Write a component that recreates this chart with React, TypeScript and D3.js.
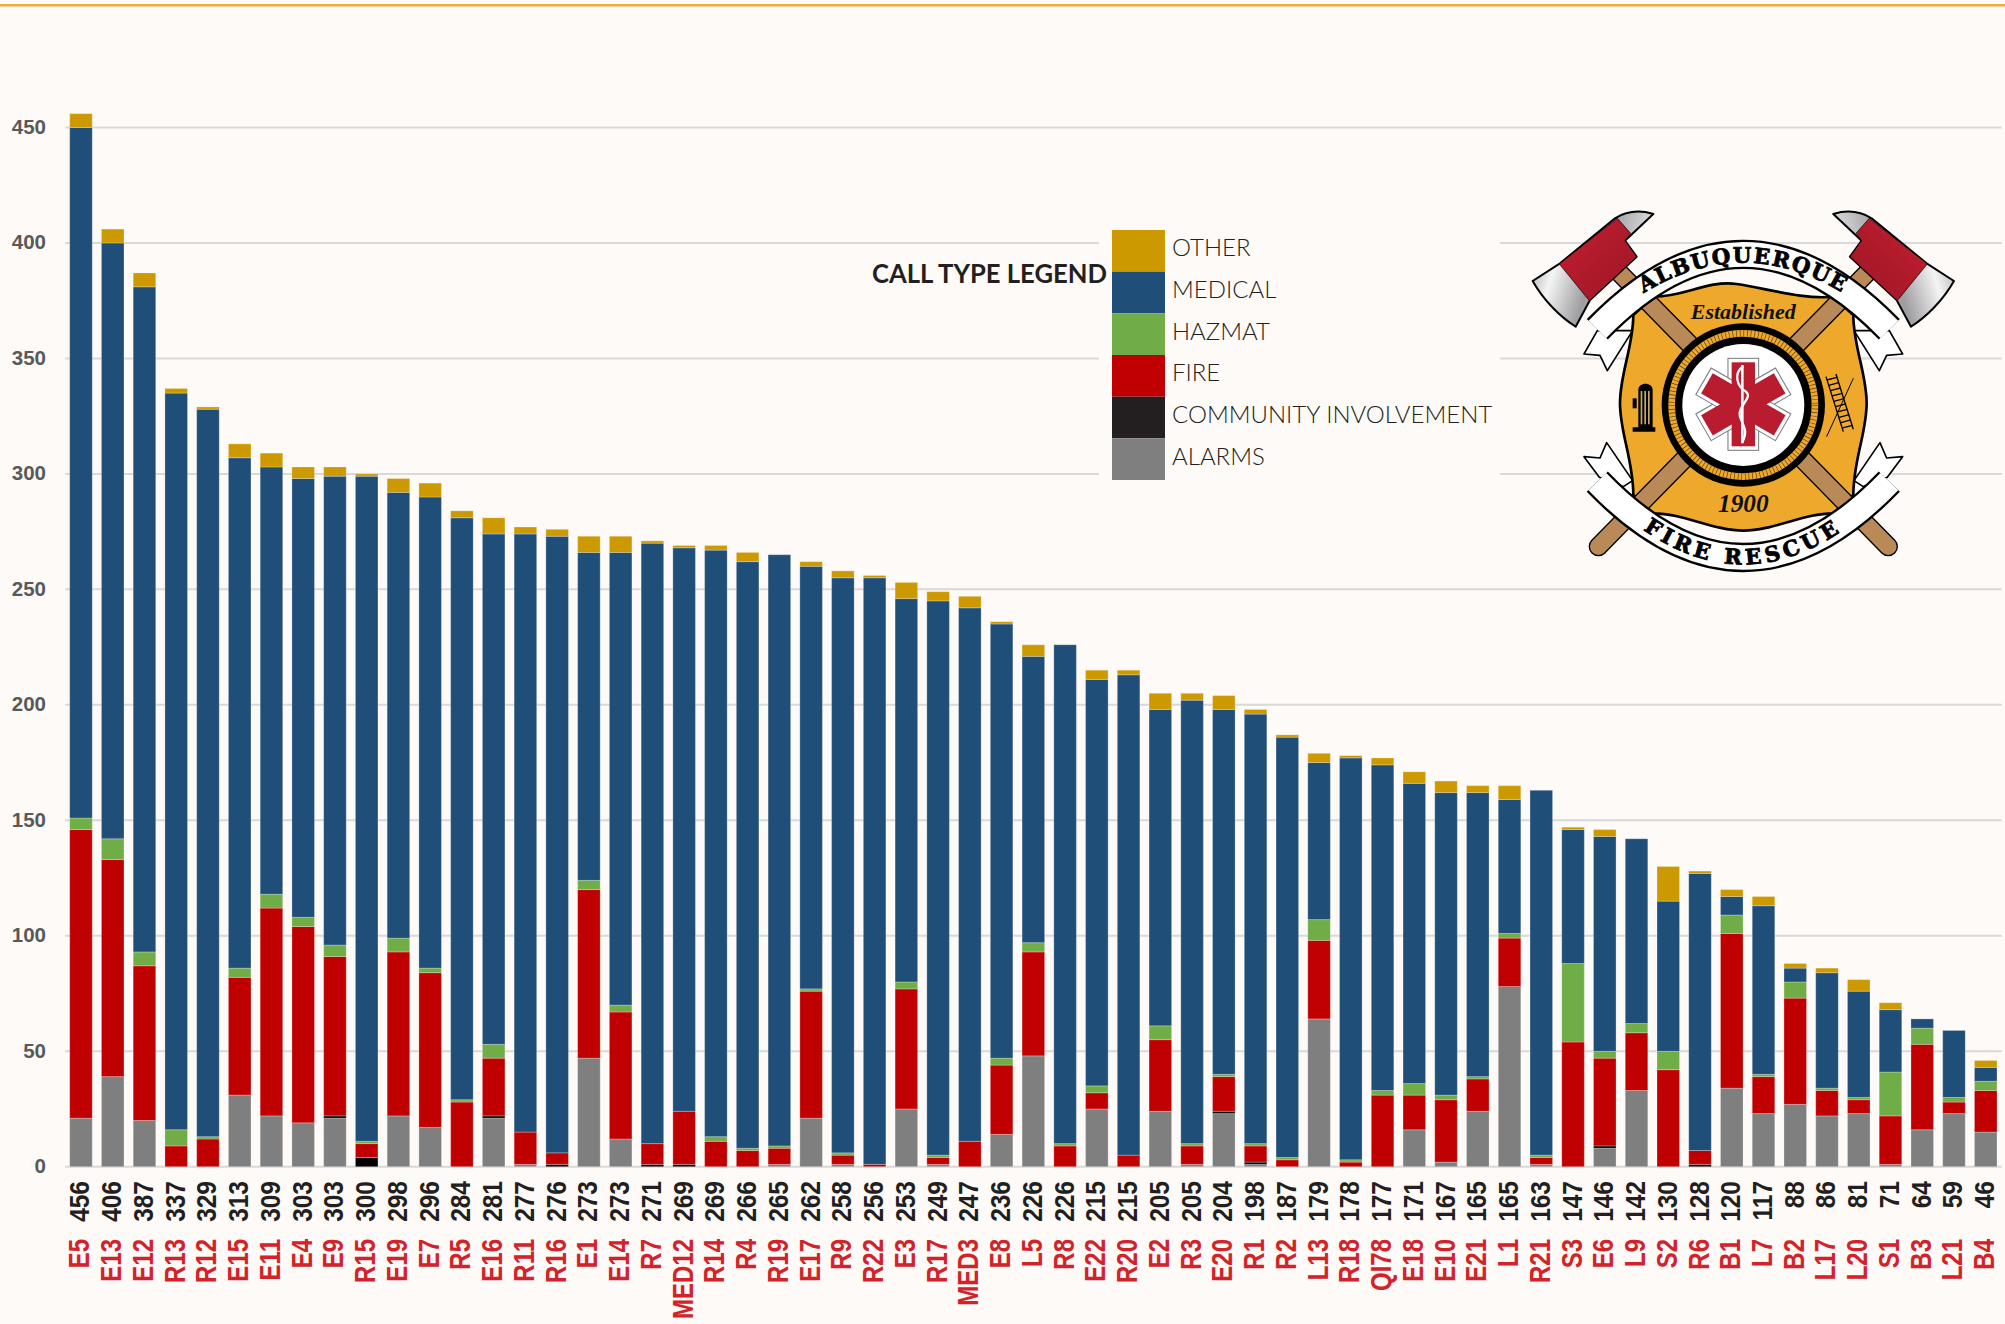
import React from 'react'
import * as d3 from 'd3'

const units = ['E5','E13','E12','R13','R12','E15','E11','E4','E9','R15','E19','E7','R5','E16','R11','R16','E1','E14','R7','MED12','R14','R4','R19','E17','R9','R22','E3','R17','MED3','E8','L5','R8','E22','R20','E2','R3','E20','R1','R2','L13','R18','QI78','E18','E10','E21','L1','R21','S3','E6','L9','S2','R6','B1','L7','B2','L17','L20','S1','B3','L21','B4']
const totals = [456,406,387,337,329,313,309,303,303,300,298,296,284,281,277,276,273,273,271,269,269,266,265,262,258,256,253,249,247,236,226,226,215,215,205,205,204,198,187,179,178,177,171,167,165,165,163,147,146,142,130,128,120,117,88,86,81,71,64,59,46]

const alarms = [21,39,20,0,0,31,22,19,21,0,22,17,0,21,1,0,47,12,0,0,0,0,1,21,1,0,25,1,0,14,48,0,25,0,24,1,23,1,0,64,0,0,16,2,24,78,1,0,8,33,0,0,34,23,27,22,23,1,16,23,15]
const community = [0,0,0,0,0,0,0,0,1,4,0,0,0,1,0,1,0,0,1,1,0,0,0,0,0,0,0,0,0,0,0,0,0,0,0,0,1,1,0,0,0,0,0,0,0,0,0,0,1,0,0,1,0,0,0,0,0,0,0,0,0]
const fire = [125,94,67,9,12,51,90,85,69,6,71,67,28,25,14,5,73,55,9,23,11,7,7,55,4,1,52,3,11,30,45,9,7,5,31,8,15,7,3,34,2,31,15,27,14,21,3,54,38,25,42,6,67,16,46,11,6,21,37,5,18]
const hazmat = [5,9,6,7,1,4,6,4,5,1,6,2,1,6,0,0,4,3,0,0,2,1,1,1,1,0,3,1,0,3,4,1,3,0,6,1,1,1,1,9,1,2,5,2,1,2,1,34,3,4,8,0,8,1,7,1,1,19,7,2,4]
const medical = [299,258,288,319,315,221,185,190,203,288,193,204,252,221,259,267,142,196,260,244,254,254,256,183,249,254,166,240,231,188,124,216,176,208,137,192,158,186,182,68,174,141,130,131,123,58,158,58,93,80,65,120,8,73,6,50,46,27,4,29,6]
const other = [6,6,6,2,1,6,6,5,4,1,6,6,3,7,3,3,7,7,1,1,2,4,0,2,3,1,7,4,5,1,5,0,4,2,7,3,6,2,1,4,1,3,5,5,3,6,0,1,3,0,15,1,3,4,2,2,5,3,0,0,3]

const callTypes = ['ALARMS','COMMUNITY INVOLVEMENT','FIRE','HAZMAT','MEDICAL','OTHER']
const callValues = [alarms, community, fire, hazmat, medical, other]
const callColors = ['#7f7f7f','#000000','#c00000','#70ad47','#1f4e79','#cc9900']
const legendOrder = ['OTHER','MEDICAL','HAZMAT','FIRE','COMMUNITY INVOLVEMENT','ALARMS']
const legendColors: Record<string, string> = { OTHER:'#cc9900', MEDICAL:'#1f4e79', HAZMAT:'#70ad47', FIRE:'#c00000', 'COMMUNITY INVOLVEMENT':'#231f20', ALARMS:'#7f7f7f' }

const W = 2005
const H = 1324
const BG = '#fdfaf7'

const x = d3.scaleBand<string>().domain(units).range([65.1, 2001.6]).paddingInner(0.29).paddingOuter(0.145)
const y = d3.scaleLinear().domain([0, 450]).range([1166.7, 127.5])
const legendY = d3.scaleBand<string>().domain(legendOrder).range([230, 480])

const rows = units.map((u, i) => {
  const row: Record<string, number | string> = { unit: u }
  callTypes.forEach((c, k) => { row[c] = callValues[k][i] })
  return row
})
const series = d3.stack<any>().keys(callTypes)(rows)

const Axe = () => (
  <g>
    <path d="M430 42 C390 30 350 33 315 55 L150 190 L68 243 C100 300 150 350 197 380 L240 300 L380 170 L345 122 Z" fill="url(#silver)" stroke="#000" strokeWidth="6" strokeLinejoin="round" />
    <path d="M322 55 L148 192 L238 302 L380 170 L345 122 L362 100 Z" fill="url(#axeRed)" stroke="#000" strokeWidth="2" />
  </g>
)

const Tails = () => (
  <g fill="#fff" stroke="#000" strokeWidth="5" strokeLinejoin="round">
    <path d="M262 392 L222 462 L270 466 L292 512 L368 392 Z" />
    <path d="M222 770 L270 774 L290 728 L368 842 L340 860 L268 832 Z" />
  </g>
)

const Logo = () => (
  <g transform="translate(1510,200) scale(0.3333)">
    <defs>
      <linearGradient id="silver" x1="0" y1="0" x2="1" y2="0.3">
        <stop offset="0" stopColor="#8d8d8f" />
        <stop offset="0.3" stopColor="#f4f4f4" />
        <stop offset="0.6" stopColor="#9d9da0" />
        <stop offset="1" stopColor="#e8e8e8" />
      </linearGradient>
      <linearGradient id="axeRed" x1="0" y1="0" x2="1" y2="1">
        <stop offset="0" stopColor="#c41f30" />
        <stop offset="1" stopColor="#9b1626" />
      </linearGradient>
      <path id="bannerTop" d="M320 335 Q700 42 1080 335" />
      <path id="bannerBottom" d="M318 925 Q700 1262 1082 925" />
    </defs>

    <Tails />
    <g transform="translate(1400,0) scale(-1,1)"><Tails /></g>

    <path d="M430 290 C520 292 590 240 680 252 C770 265 880 300 970 290 L1030 345 C1030 440 1070 520 1070 610 C1070 700 1030 780 1030 885 L970 940 C880 940 790 992 700 992 C610 992 520 940 430 940 L370 885 C370 780 330 700 330 610 C330 520 370 440 370 345 Z" fill="#eea92d" stroke="#000" strokeWidth="8" strokeLinejoin="round" />

    <g stroke="#000" strokeLinecap="round">
      <line x1="320" y1="210" x2="1135" y2="1040" strokeWidth="58" />
      <line x1="1080" y1="210" x2="265" y2="1040" strokeWidth="58" />
      <line x1="320" y1="210" x2="1135" y2="1040" strokeWidth="50" stroke="#b98a57" />
      <line x1="1080" y1="210" x2="265" y2="1040" strokeWidth="50" stroke="#b98a57" />
    </g>

    <Axe />
    <g transform="translate(1400,0) scale(-1,1)"><Axe /></g>

    <circle cx="700" cy="615" r="245" fill="#000" />
    <circle cx="700" cy="615" r="215" fill="none" stroke="#eea92d" strokeWidth="20" />
    <circle cx="700" cy="615" r="215" fill="none" stroke="#5a3d10" strokeWidth="20" strokeDasharray="2 9" />
    <circle cx="700" cy="615" r="183" fill="#fff" />

    {[0, 60, 120].map(a => (
      <g key={a} transform={`rotate(${a} 700 613)`}>
        <rect x="654" y="475" width="92" height="276" fill="#fff" stroke="#777" strokeWidth="3" />
      </g>
    ))}
    {[0, 60, 120].map(a => (
      <g key={a} transform={`rotate(${a} 700 613)`}>
        <rect x="665" y="487" width="70" height="252" fill="#b81c2e" />
      </g>
    ))}
    <path d="M697 495 L697 730" stroke="#fff" strokeWidth="8" fill="none" />
    <path d="M700 498 C670 520 680 560 708 575 C730 595 680 620 690 650 C700 680 715 690 698 725" stroke="#fff" strokeWidth="7" fill="none" />

    <g>
      <path d="M378 695 L436 695 L436 682 L428 682 L428 570 C428 545 385 545 385 570 L385 682 L368 682 L368 695 Z" fill="#000" />
      <rect x="368" y="595" width="12" height="30" fill="#000" />
      {[392, 403, 414].map(sx => <rect key={sx} x={sx} y="573" width="5" height="100" fill="#c9a86a" />)}
    </g>

    <g stroke="#000" strokeWidth="4" fill="none">
      <line x1="948" y1="530" x2="1000" y2="695" />
      <line x1="978" y1="522" x2="1030" y2="688" />
      {[0, 1, 2, 3, 4, 5, 6, 7, 8, 9].map(i => (
        <line key={i} x1={951 + i * 5.2} y1={540 + i * 16} x2={981 + i * 5.2} y2={532 + i * 16} />
      ))}
      <line x1="1030" y1="535" x2="950" y2="710" strokeWidth="3" />
    </g>

    <g fill="none">
      <path d="M262 388 Q700 -62 1138 388" stroke="#000" strokeWidth="88" />
      <path d="M262 388 Q700 -62 1138 388" stroke="#fff" strokeWidth="74" />
      <path d="M262 845 Q700 1300 1138 845" stroke="#000" strokeWidth="88" />
      <path d="M262 845 Q700 1300 1138 845" stroke="#fff" strokeWidth="74" />
    </g>

    <text fontFamily="'DejaVu Serif', serif" fontWeight="bold" fontSize="64" fill="#000" stroke="#000" strokeWidth="2.5">
      <textPath href="#bannerTop" startOffset="50%" textAnchor="middle" letterSpacing="5">ALBUQUERQUE</textPath>
    </text>
    <text fontFamily="'DejaVu Serif', serif" fontWeight="bold" fontSize="64" fill="#000" stroke="#000" strokeWidth="2.5">
      <textPath href="#bannerBottom" startOffset="50%" textAnchor="middle" letterSpacing="13">FIRE RESCUE</textPath>
    </text>
    <text x="700" y="356" textAnchor="middle" fontFamily="'Liberation Serif', serif" fontWeight="bold" fontStyle="italic" fontSize="66" fill="#111">Established</text>
    <text x="700" y="937" textAnchor="middle" fontFamily="'Liberation Serif', serif" fontWeight="bold" fontStyle="italic" fontSize="76" fill="#111">1900</text>
  </g>
)

const App = () => {
  return (
    <svg width={W} height={H} style={{ position: 'absolute', left: 0, top: 0, display: 'block' }}>
      <rect width={W} height={H} fill={BG} />
      <rect y={4} width={W} height={2.5} fill="#f0a93c" />

      <g id="grid">
        {y.ticks(9).map(t => (
          <g key={t}>
            <line x1={65.1} x2={2001.6} y1={y(t)} y2={y(t)} stroke="#d9d9d9" strokeWidth={2} />
            <text x={46} y={y(t) - 1} dy=".36em" textAnchor="end" fontFamily="'Liberation Sans', sans-serif" fontWeight="bold" fontSize={20.5} fill="#595959">{t}</text>
          </g>
        ))}
      </g>

      <g id="bars">
        {series.map((s, k) => (
          <g key={s.key} fill={callColors[k]}>
            {s.map((d, i) => d[1] > d[0] ? (
              <rect key={i} x={x(units[i])} width={x.bandwidth()} y={y(d[1])} height={y(d[0]) - y(d[1])} stroke="#fff" strokeOpacity={0.25} strokeWidth={1} />
            ) : null)}
          </g>
        ))}
      </g>

      <g id="labels" fontFamily="'Liberation Sans', sans-serif" fontWeight="bold">
        {units.map((u, i) => {
          const cx = (x(u) as number) + x.bandwidth() / 2
          return (
            <g key={u}>
              <text transform={`translate(${cx + 8.5},1181) rotate(-90) scale(1,1.14)`} textAnchor="end" fontSize={24.5} fill="#231f20">{totals[i]}</text>
              <text transform={`translate(${cx + 8.5},1239) rotate(-90) scale(1,1.2)`} textAnchor="end" fontSize={24} fill="#d2232a">{u}</text>
            </g>
          )
        })}
      </g>

      <g id="legend">
        <rect x={1099} y={225} width={401} height={265} fill={BG} />
        <text x={872} y={273} dy=".36em" fontFamily="Lato, sans-serif" fontWeight="bold" fontSize={26.5} fill="#231f20" textLength={235} lengthAdjust="spacingAndGlyphs">CALL TYPE LEGEND</text>
        {legendOrder.map(c => (
          <g key={c}>
            <rect x={1112} y={legendY(c)} width={53} height={legendY.bandwidth()} fill={legendColors[c]} />
            <text x={1172} y={(legendY(c) as number) + legendY.bandwidth() / 2 - 3} dy=".36em" fontFamily="Lato, sans-serif" fontWeight={300} fontSize={24} fill="#231f20">{c}</text>
          </g>
        ))}
      </g>

      <Logo />
    </svg>
  )
}

export default App
